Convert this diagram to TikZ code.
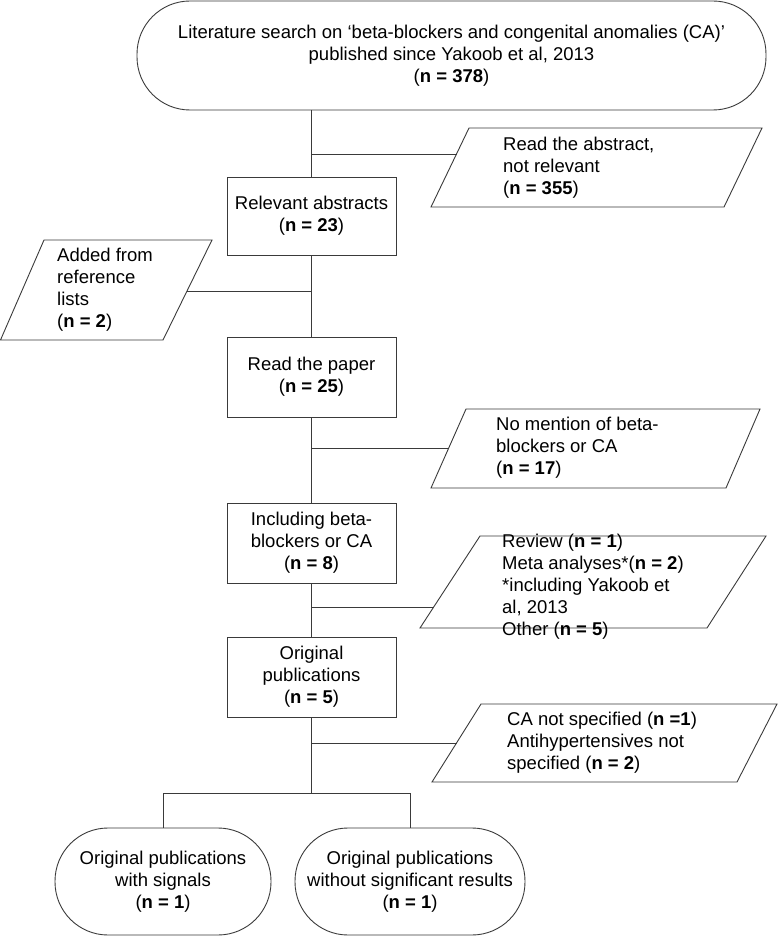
\documentclass[tikz,border=0pt]{standalone}
\usepackage{fontspec}
\setmainfont{Liberation Sans}
\usetikzlibrary{shapes.misc}
\definecolor{linec}{HTML}{3A3A3A}
\begin{document}
\begin{tikzpicture}[x=1pt,y=-1pt,
  lin/.style={draw=linec, line width=0.9pt},
  txt/.style={font=\fontsize{18.5}{22}\selectfont, text=black},
  box/.style={lin, rectangle, minimum width=169pt, minimum height=80pt, inner sep=0pt, txt, align=center},
  term/.style={lin, rectangle, rounded corners=53pt, inner sep=0pt, txt, align=center},
  ptxt/.style={txt, anchor=west, align=left, inner sep=0pt},
  ]
\useasboundingbox (0,0) rectangle (779,936);

% main column
\node[term, minimum width=629pt, minimum height=109pt] (search) at (451.5,55.5)
  {Literature search on ‘beta-blockers and congenital anomalies (CA)’\\published since Yakoob et al, 2013\\(\textbf{n = 378})};
\node[box, minimum height=78pt] (relabs) at (311.5,216) {Relevant abstracts\\(\textbf{n = 23})};
\node[box] (paper) at (311.5,377) {Read the paper\\(\textbf{n = 25})};
\node[box] (incl) at (311.5,543) {Including beta-\\blockers or CA\\(\textbf{n = 8})};
\node[box] (orig) at (311.5,677) {Original\\publications\\(\textbf{n = 5})};
\node[term, minimum width=216pt, minimum height=107pt] (signal) at (163,881.5)
  {Original publications\\with signals\\(\textbf{n = 1})};
\node[term, minimum width=230pt, minimum height=107pt] (nosig) at (410,881.5)
  {Original publications\\without significant results\\(\textbf{n = 1})};

% side parallelograms
\draw[lin] (469,128) -- (762,128) -- (724,207) -- (431,207) -- cycle;
\node[ptxt] (abs) at (503,167.5) {Read the abstract,\\not relevant\\(\textbf{n = 355})};
\coordinate (absin) at (456.5,154);

\draw[lin] (44,240) -- (212,240) -- (163,340) -- (0.5,340) -- cycle;
\node[ptxt] (added) at (57,290) {Added from\\reference\\lists\\(\textbf{n = 2})};
\coordinate (addout) at (187,291);

\draw[lin] (466,409) -- (760,409) -- (726,488) -- (431,488) -- cycle;
\node[ptxt] (nomen) at (496,448) {No mention of beta-\\blockers or CA\\(\textbf{n = 17})};
\coordinate (nomin) at (448.7,448);

\draw[lin] (480,536) -- (766,536) -- (707,628) -- (420,628) -- cycle;
\node[ptxt] (meta) at (502,587) {Review (\textbf{n = 1})\\Meta analyses*(\textbf{n = 2})\\*including Yakoob et\\al, 2013\\Other (\textbf{n = 5})};
\coordinate (metain) at (433.7,607);

\draw[lin] (481,704) -- (777,704) -- (737,782) -- (432,782) -- cycle;
\node[ptxt] (canot) at (507,743) {CA not specified (\textbf{n =1})\\Antihypertensives not\\specified (\textbf{n = 2})};
\coordinate (cain) at (456.5,743);

% junctions on the trunk
\coordinate (j1) at (311.5,154);
\coordinate (j2) at (311.5,291);
\coordinate (j3) at (311.5,448);
\coordinate (j4) at (311.5,607);
\coordinate (j5) at (311.5,743);
\coordinate (split) at (311.5,793);

% connectors
\draw[lin] (search.south -| relabs.north) -- (relabs.north);
\draw[lin] (relabs.south) -- (paper.north);
\draw[lin] (paper.south) -- (incl.north);
\draw[lin] (incl.south) -- (orig.north);
\draw[lin] (orig.south) -- (split);
\draw[lin] (j1) -- (absin);
\draw[lin] (addout) -- (j2);
\draw[lin] (j3) -- (nomin);
\draw[lin] (j4) -- (metain);
\draw[lin] (j5) -- (cain);
\draw[lin] (signal.north) -- (signal.north |- split) -- (nosig.north |- split) -- (nosig.north);
\end{tikzpicture}
\end{document}
